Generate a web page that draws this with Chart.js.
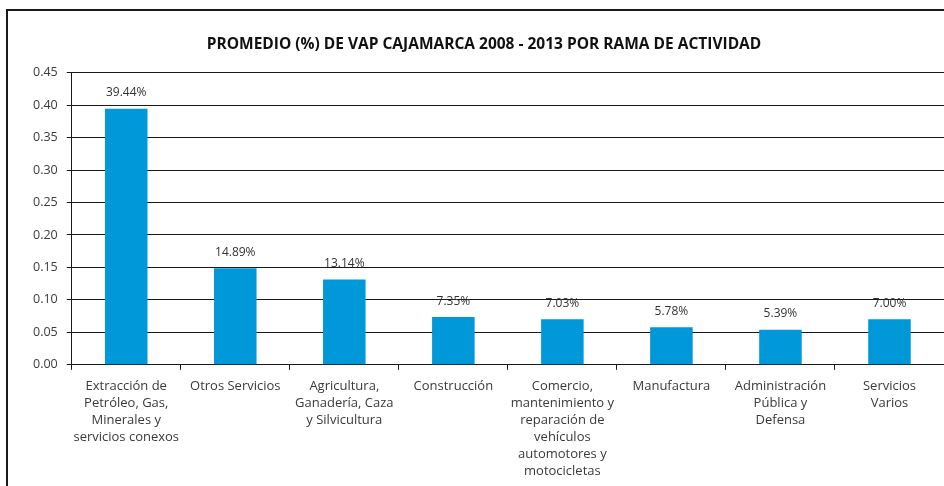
<!DOCTYPE html>
<html>
<head>
<meta charset="utf-8">
<script src="https://cdn.jsdelivr.net/npm/chart.js@4"></script>
<style>
  html, body { margin: 0; padding: 0; background: #fff; overflow: hidden; }
  .frame { position: absolute; left: 6px; top: 9px; width: 1000px; height: 600px; border: 2px solid #1a1a1a; }
  .wrap { position: absolute; left: 0; top: 0; width: 944px; height: 486px; }
</style>
</head>
<body>
<div class="frame"></div>
<div class="wrap"><canvas id="chart" width="944" height="486"></canvas></div>
<script>
const categories = [
  ['Extracción de', 'Petróleo, Gas,', 'Minerales y', 'servicios conexos'],
  ['Otros Servicios'],
  ['Agricultura,', 'Ganadería, Caza', 'y Silvicultura'],
  ['Construcción'],
  ['Comercio,', 'mantenimiento y', 'reparación de', 'vehículos', 'automotores y', 'motocicletas'],
  ['Manufactura'],
  ['Administración', 'Pública y', 'Defensa'],
  ['Servicios', 'Varios']
];
const values = [0.3944, 0.1489, 0.1314, 0.0735, 0.0703, 0.0578, 0.0539, 0.0700];
const yTicks = [0, 0.05, 0.10, 0.15, 0.20, 0.25, 0.30, 0.35, 0.40, 0.45];
const title = 'PROMEDIO (%) DE VAP CAJAMARCA 2008 - 2013 POR RAMA DE ACTIVIDAD';

const FONT = '"Open Sans", sans-serif';

// etiquetas de porcentaje encima de cada barra
const valueLabels = {
  id: 'valueLabels',
  afterDatasetsDraw(chart) {
    const ctx = chart.ctx;
    const meta = chart.getDatasetMeta(0);
    ctx.save();
    ctx.font = '12px ' + FONT;
    ctx.fillStyle = '#333';
    ctx.textAlign = 'center';
    ctx.textBaseline = 'middle';
    meta.data.forEach((bar, i) => {
      ctx.fillText((values[i] * 100).toFixed(2) + '%', bar.x, bar.y - 16);
    });
    ctx.restore();
  }
};

new Chart(document.getElementById('chart').getContext('2d'), {
  type: 'bar',
  data: {
    labels: categories,
    datasets: [{
      data: values,
      backgroundColor: '#0098d8',
      barPercentage: 0.39,
      categoryPercentage: 1.0
    }]
  },
  options: {
    responsive: false,
    animation: false,
    layout: { padding: { left: 24, right: 0, top: 35, bottom: -2 } },
    plugins: {
      legend: { display: false },
      tooltip: { enabled: false },
      title: {
        display: true,
        text: title,
        color: '#111',
        font: { family: FONT, size: 15.5, weight: 'bold' },
        padding: { top: 0, bottom: 19 }
      }
    },
    scales: {
      x: {
        border: { color: '#1a1a1a', width: 1 },
        grid: { display: true, drawOnChartArea: false, color: '#1a1a1a', tickLength: 5, offset: true },
        ticks: {
          color: '#3a3a3a',
          font: { family: FONT, size: 13, lineHeight: 1.31 },
          maxRotation: 0,
          autoSkip: false,
          padding: 8
        }
      },
      y: {
        min: 0,
        max: 0.45,
        afterBuildTicks: axis => { axis.ticks = yTicks.map(v => ({ value: v })); },
        border: { color: '#1a1a1a', width: 1 },
        grid: { color: '#1a1a1a', lineWidth: 1, tickLength: 5 },
        ticks: {
          color: '#3a3a3a',
          font: { family: FONT, size: 12.5 },
          padding: 9,
          callback: v => v.toFixed(2)
        }
      }
    }
  },
  plugins: [valueLabels]
});
</script>
</body>
</html>
